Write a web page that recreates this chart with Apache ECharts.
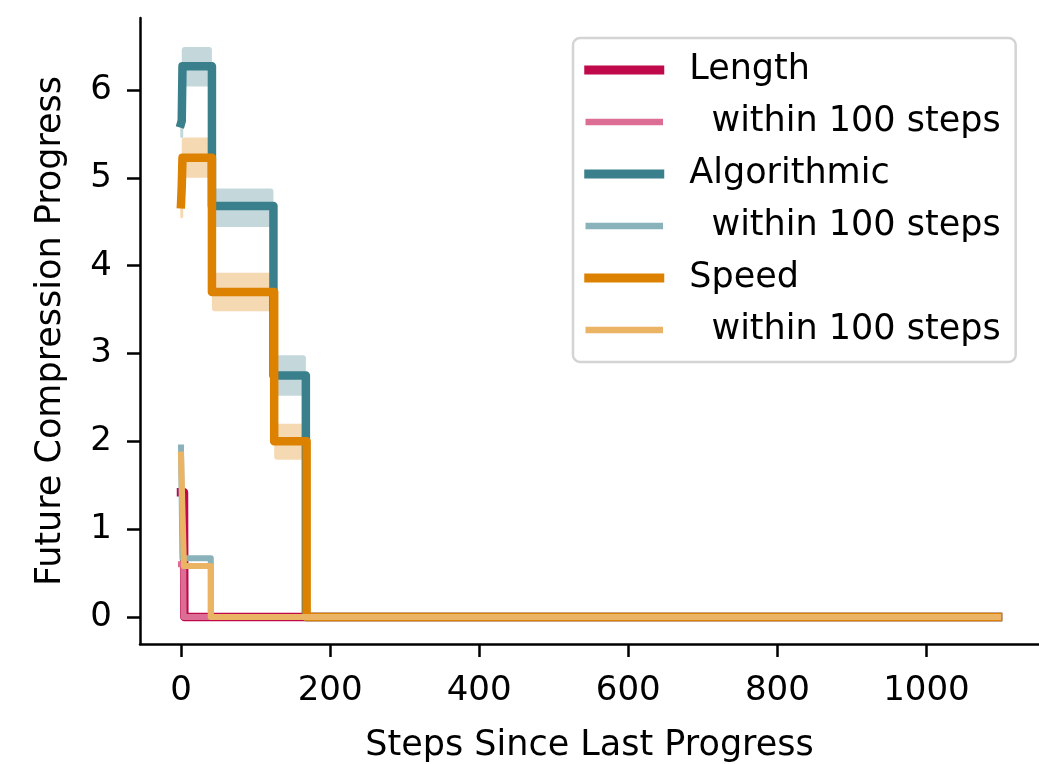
<!DOCTYPE html>
<html>
<head>
<meta charset="utf-8">
<script src="https://cdn.jsdelivr.net/npm/echarts@6/dist/echarts.min.js"></script>
<style>
  html, body { margin: 0; padding: 0; background: #fff; }
  #chart { width: 1039px; height: 764px; }
</style>
</head>
<body>
<div id="chart"></div>
<script>
// values (x = steps since last progress)
const lengthX = [0, 4, 4.5, 1096]
const lengthY = [1.42, 1.42, 0, 0]
const lengthWithinX = [0, 3, 3.5, 1096]
const lengthWithinY = [0.6, 0.6, 0, 0]

const algX = [0, 1, 2, 41.5, 41.5, 124, 124, 167.5, 167.5, 1096]
const algY = [5.62, 5.65, 6.27, 6.27, 4.68, 4.68, 2.75, 2.75, 0, 0]
const algWithinX = [0, 2, 40, 40, 1096]
const algWithinY = [1.93, 0.67, 0.67, 0, 0]

const speedX = [0, 1, 2, 41.5, 41.5, 125, 125, 168.5, 168.5, 1096]
const speedY = [4.7, 4.9, 5.23, 5.23, 3.7, 3.7, 2.0, 2.0, 0, 0]
const speedWithinX = [0, 4, 40, 40, 1096]
const speedWithinY = [1.85, 0.58, 0.58, 0, 0]

// confidence bands: [xStart, xEnd, lower, upper]
const algBand = [[-1, 3, 5.45, 5.8], [1, 41.5, 6.04, 6.49], [41.5, 124, 4.44, 4.88], [124, 167.5, 2.52, 2.98]]
const speedBand = [[-1, 3, 4.54, 4.95], [1, 41.5, 5.0, 5.46], [41.5, 125, 3.48, 3.92], [125, 168.5, 1.79, 2.2]]

const xTicks = [0, 200, 400, 600, 800, 1000]
const yTicks = [0, 1, 2, 3, 4, 5, 6]

const C = {
  length: '#C0094A',
  lengthWithin: '#DC6D94',
  alg: '#3A7F8C',
  algWithin: '#89B2BA',
  speed: '#DD8100',
  speedWithin: '#EBB364'
}

const FONT = 'DejaVu Sans'

function zip(xs, ys) {
  return xs.map((x, i) => [x, ys[i]])
}

function lineSeries(name, xs, ys, color, width) {
  return {
    type: 'line',
    name,
    data: zip(xs, ys),
    showSymbol: false,
    symbol: 'none',
    silent: true,
    itemStyle: { color },
    lineStyle: { color, width, cap: 'square', join: 'round' }
  }
}

function bandSeries(name, segs, color) {
  return {
    type: 'custom',
    name,
    silent: true,
    data: segs,
    encode: { x: [0, 1], y: [2, 3] },
    renderItem: (params, api) => {
      const p0 = api.coord([api.value(0), api.value(3)])
      const p1 = api.coord([api.value(1), api.value(2)])
      return {
        type: 'rect',
        shape: { x: p0[0], y: p0[1], width: p1[0] - p0[0], height: p1[1] - p0[1], r: 3 },
        style: { fill: color, opacity: 0.3 }
      }
    }
  }
}

const axisCommon = {
  type: 'value',
  splitLine: { show: false },
  axisLine: { show: true, onZero: false, lineStyle: { color: '#000', width: 2.5 } },
  axisTick: { show: true, length: 13, lineStyle: { color: '#000', width: 2.5 } },
  nameTextStyle: { fontFamily: FONT, fontSize: 35, color: '#000' }
}

const labelMap = {
  'Length': 'Length',
  'Length within': '  within 100 steps',
  'Algorithmic': 'Algorithmic',
  'Algorithmic within': '  within 100 steps',
  'Speed': 'Speed',
  'Speed within': '  within 100 steps'
}

function legendItem(name, color, thin) {
  return {
    name,
    icon: 'rect',
    itemStyle: thin
      ? { color, borderColor: '#fff', borderWidth: 2.5 }
      : { color, borderWidth: 0 }
  }
}

const chart = echarts.init(document.getElementById('chart'), null, { renderer: 'canvas' })

chart.setOption({
  animation: false,
  backgroundColor: '#fff',
  grid: { left: 140, right: 0, top: 18, bottom: 120, containLabel: false, outerBoundsMode: 'none' },
  xAxis: Object.assign({}, axisCommon, {
    min: -55,
    max: 1151,
    name: 'Steps Since Last Progress',
    nameLocation: 'middle',
    nameGap: 84,
    axisTick: Object.assign({}, axisCommon.axisTick, { customValues: xTicks }),
    axisLabel: { customValues: xTicks, margin: 30, fontFamily: FONT, fontSize: 34, color: '#000', formatter: (v) => String(v) }
  }),
  yAxis: Object.assign({}, axisCommon, {
    min: -0.307,
    max: 6.82,
    name: 'Future Compression Progress',
    nameLocation: 'middle',
    nameGap: 72,
    axisTick: Object.assign({}, axisCommon.axisTick, { customValues: yTicks }),
    axisLabel: { customValues: yTicks, margin: 28, fontFamily: FONT, fontSize: 34, color: '#000', formatter: (v) => String(v) }
  }),
  legend: {
    orient: 'vertical',
    left: 573,
    top: 38,
    padding: [12, 15, 12, 10],
    itemGap: 12,
    itemWidth: 80,
    itemHeight: 9,
    backgroundColor: 'rgba(255,255,255,0.85)',
    borderColor: '#d4d4d4',
    borderWidth: 2.5,
    borderRadius: 7,
    selectedMode: false,
    formatter: (name) => labelMap[name],
    textStyle: { fontFamily: FONT, fontSize: 35, color: '#000', lineHeight: 40, padding: [0, 0, 0, 20] },
    data: [
      legendItem('Length', C.length, false),
      legendItem('Length within', C.lengthWithin, true),
      legendItem('Algorithmic', C.alg, false),
      legendItem('Algorithmic within', C.algWithin, true),
      legendItem('Speed', C.speed, false),
      legendItem('Speed within', C.speedWithin, true)
    ]
  },
  series: [
    lineSeries('Length', lengthX, lengthY, C.length, 8.5),
    lineSeries('Length within', lengthWithinX, lengthWithinY, C.lengthWithin, 6),
    bandSeries('Algorithmic band', algBand, C.alg),
    lineSeries('Algorithmic', algX, algY, C.alg, 8.5),
    lineSeries('Algorithmic within', algWithinX, algWithinY, C.algWithin, 6),
    bandSeries('Speed band', speedBand, C.speed),
    lineSeries('Speed', speedX, speedY, C.speed, 8.5),
    lineSeries('Speed within', speedWithinX, speedWithinY, C.speedWithin, 6)
  ]
})
</script>
</body>
</html>
